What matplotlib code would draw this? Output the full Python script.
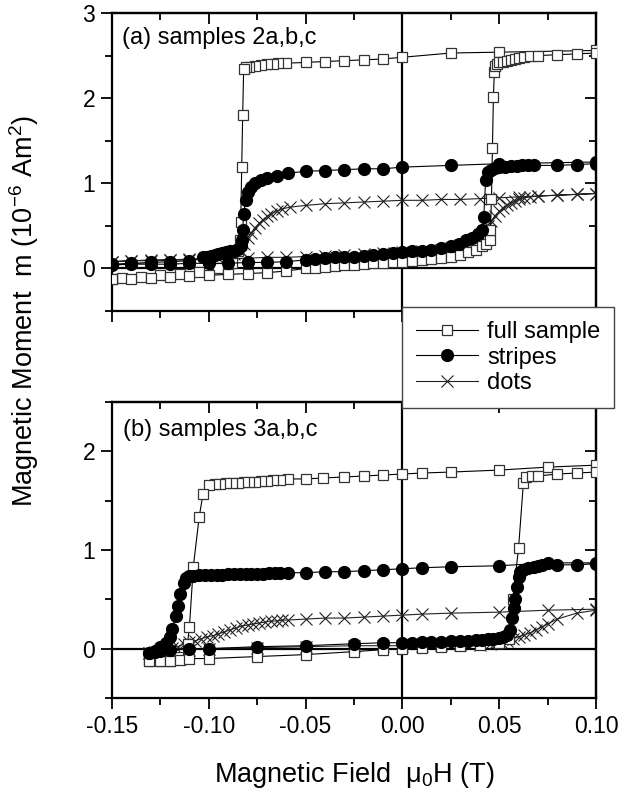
"""
Hysteresis loops of samples 2a,b,c and 3a,b,c (full sample / stripes / dots)
"""
import matplotlib
matplotlib.use('Agg')
import matplotlib.pyplot as plt
from matplotlib.ticker import MultipleLocator, NullFormatter, FormatStrFormatter

plt.rcParams['font.family'] = ['Liberation Sans', 'DejaVu Sans']
plt.rcParams['mathtext.fontset'] = 'custom'
plt.rcParams['mathtext.rm'] = 'Liberation Sans'
plt.rcParams['mathtext.it'] = 'Liberation Sans:italic'
plt.rcParams['axes.unicode_minus'] = False

# ---- panel (a): samples 2a,b,c ----
a_full_dn_H = [0.100, 0.050, 0.025, 0.000, -0.010, -0.020, -0.030, -0.040, -0.050, -0.060,
               -0.064, -0.067, -0.070, -0.073, -0.076, -0.079, -0.081, -0.082, -0.0825, -0.083,
               -0.0835, -0.084, -0.085, -0.088, -0.095, -0.105, -0.115, -0.125, -0.135, -0.145, -0.150]
a_full_dn_m = [2.56, 2.54, 2.53, 2.48, 2.46, 2.45, 2.44, 2.43, 2.42, 2.41,
               2.41, 2.40, 2.40, 2.39, 2.38, 2.37, 2.36, 2.34, 1.80, 1.19,
               0.55, 0.33, 0.20, 0.06, 0.00, -0.04, -0.06, -0.08, -0.10, -0.11, -0.12]
a_full_up_H = [-0.150, -0.140, -0.130, -0.120, -0.110, -0.100, -0.090, -0.080, -0.070, -0.060,
               -0.050, -0.045, -0.040, -0.035, -0.030, -0.025, -0.020, -0.015, -0.010, -0.005,
               0.000, 0.005, 0.010, 0.015, 0.020, 0.025, 0.030, 0.034, 0.038, 0.041,
               0.043, 0.045, 0.0455, 0.046, 0.0465, 0.047, 0.0475, 0.048, 0.049, 0.050,
               0.052, 0.054, 0.056, 0.058, 0.060, 0.063, 0.066, 0.070, 0.080, 0.090, 0.100]
a_full_up_m = [-0.13, -0.12, -0.11, -0.10, -0.09, -0.08, -0.07, -0.06, -0.05, -0.03,
               0.00, 0.01, 0.02, 0.03, 0.04, 0.04, 0.05, 0.06, 0.06, 0.07,
               0.08, 0.09, 0.10, 0.11, 0.12, 0.14, 0.16, 0.19, 0.22, 0.26,
               0.29, 0.33, 0.45, 0.82, 1.41, 2.01, 2.31, 2.38, 2.40, 2.42,
               2.43, 2.44, 2.45, 2.46, 2.47, 2.48, 2.49, 2.50, 2.51, 2.52, 2.53]

a_stripe_dn_H = [0.100, 0.050, 0.025, 0.000, -0.010, -0.020, -0.030, -0.040, -0.050, -0.059,
                 -0.065, -0.070, -0.073, -0.076, -0.078, -0.0795, -0.081, -0.082, -0.0825, -0.083,
                 -0.0835, -0.085, -0.087, -0.089, -0.091, -0.093, -0.095, -0.097, -0.099, -0.101,
                 -0.103, -0.110, -0.120, -0.130, -0.140, -0.150]
a_stripe_dn_m = [1.25, 1.23, 1.21, 1.19, 1.17, 1.17, 1.16, 1.15, 1.14, 1.12,
                 1.09, 1.06, 1.04, 1.00, 0.96, 0.90, 0.80, 0.64, 0.45, 0.33,
                 0.26, 0.23, 0.21, 0.20, 0.19, 0.18, 0.17, 0.16, 0.15, 0.14,
                 0.13, 0.09, 0.08, 0.07, 0.06, 0.05]
a_stripe_up_H = [-0.150, -0.140, -0.130, -0.120, -0.110, -0.100, -0.090, -0.080, -0.070, -0.060,
                 -0.050, -0.045, -0.040, -0.035, -0.030, -0.025, -0.020, -0.015, -0.010, -0.005,
                 0.000, 0.005, 0.010, 0.015, 0.020, 0.025, 0.029, 0.033, 0.036, 0.039,
                 0.041, 0.042, 0.043, 0.044, 0.046, 0.048, 0.050, 0.053, 0.056, 0.059,
                 0.062, 0.065, 0.068, 0.080, 0.090, 0.100]
a_stripe_up_m = [0.04, 0.05, 0.05, 0.05, 0.06, 0.06, 0.06, 0.07, 0.07, 0.08,
                 0.10, 0.11, 0.12, 0.13, 0.14, 0.14, 0.15, 0.16, 0.17, 0.18,
                 0.19, 0.20, 0.21, 0.22, 0.24, 0.26, 0.29, 0.33, 0.36, 0.40,
                 0.45, 0.60, 1.04, 1.13, 1.16, 1.18, 1.19, 1.19, 1.20, 1.20,
                 1.21, 1.21, 1.21, 1.21, 1.22, 1.23]

a_dot_dn_H = [0.100, 0.090, 0.080, 0.070, 0.060, 0.050, 0.040, 0.030, 0.020, 0.010,
              0.000, -0.010, -0.020, -0.030, -0.040, -0.050, -0.058, -0.062, -0.065, -0.068,
              -0.070, -0.072, -0.074, -0.076, -0.078, -0.080, -0.082, -0.084, -0.087, -0.090,
              -0.095, -0.100, -0.110, -0.120, -0.130, -0.140, -0.150]
a_dot_dn_m = [0.88, 0.87, 0.86, 0.85, 0.84, 0.83, 0.82, 0.81, 0.81, 0.80,
              0.80, 0.79, 0.78, 0.77, 0.76, 0.74, 0.72, 0.70, 0.67, 0.64,
              0.61, 0.57, 0.53, 0.48, 0.42, 0.36, 0.29, 0.22, 0.17, 0.14,
              0.12, 0.11, 0.10, 0.10, 0.09, 0.09, 0.08]
a_dot_up_H = [-0.150, -0.140, -0.130, -0.120, -0.110, -0.100, -0.090, -0.080, -0.070, -0.060,
              -0.050, -0.040, -0.030, -0.020, -0.010, 0.000, 0.010, 0.020, 0.025, 0.030,
              0.034, 0.037, 0.040, 0.042, 0.044, 0.046, 0.048, 0.050, 0.052, 0.054,
              0.056, 0.058, 0.060, 0.063, 0.066, 0.070, 0.080, 0.090, 0.100]
a_dot_up_m = [0.08, 0.09, 0.10, 0.10, 0.11, 0.11, 0.11, 0.12, 0.13, 0.13,
              0.14, 0.15, 0.16, 0.17, 0.18, 0.19, 0.20, 0.22, 0.24, 0.27,
              0.30, 0.34, 0.39, 0.44, 0.50, 0.56, 0.62, 0.67, 0.71, 0.74,
              0.77, 0.79, 0.81, 0.83, 0.84, 0.85, 0.86, 0.87, 0.88]

# ---- panel (b): samples 3a,b,c ----
b_full_dn_H = [0.100, 0.075, 0.050, 0.025, 0.010, 0.000, -0.010, -0.020, -0.030, -0.041,
               -0.050, -0.059, -0.063, -0.067, -0.070, -0.073, -0.076, -0.079, -0.082, -0.085,
               -0.088, -0.091, -0.094, -0.097, -0.100, -0.103, -0.105, -0.108, -0.110, -0.111,
               -0.113, -0.116, -0.120, -0.125, -0.131]
b_full_dn_m = [1.86, 1.84, 1.81, 1.79, 1.78, 1.77, 1.76, 1.75, 1.74, 1.73,
               1.72, 1.72, 1.71, 1.71, 1.70, 1.70, 1.69, 1.69, 1.69, 1.68,
               1.68, 1.68, 1.67, 1.67, 1.66, 1.57, 1.33, 0.83, 0.22, 0.05,
               -0.05, -0.08, -0.12, -0.13, -0.13]
b_full_up_H = [-0.131, -0.125, -0.120, -0.115, -0.110, -0.100, -0.075, -0.050, -0.025, -0.010,
               0.000, 0.010, 0.020, 0.030, 0.040, 0.050, 0.055, 0.057, 0.060, 0.0625,
               0.064, 0.067, 0.070, 0.080, 0.090, 0.100]
b_full_up_m = [-0.13, -0.13, -0.13, -0.11, -0.10, -0.10, -0.08, -0.06, -0.03, -0.01,
               0.00, 0.01, 0.02, 0.03, 0.04, 0.06, 0.10, 0.50, 1.02, 1.68,
               1.74, 1.75, 1.75, 1.77, 1.78, 1.79]

b_stripe_dn_H = [0.100, 0.075, 0.050, 0.025, 0.010, 0.000, -0.010, -0.020, -0.030, -0.040,
                 -0.050, -0.059, -0.063, -0.066, -0.069, -0.072, -0.075, -0.078, -0.081, -0.084,
                 -0.087, -0.090, -0.093, -0.096, -0.099, -0.102, -0.105, -0.108, -0.110, -0.112,
                 -0.113, -0.1147, -0.116, -0.117, -0.119, -0.120, -0.122, -0.125, -0.128, -0.131]
b_stripe_dn_m = [0.87, 0.87, 0.84, 0.83, 0.82, 0.81, 0.80, 0.79, 0.78, 0.78,
                 0.77, 0.77, 0.77, 0.77, 0.77, 0.76, 0.76, 0.76, 0.76, 0.76,
                 0.76, 0.76, 0.75, 0.75, 0.75, 0.75, 0.75, 0.74, 0.74, 0.72,
                 0.67, 0.55, 0.43, 0.33, 0.20, 0.12, 0.06, 0.02, -0.02, -0.04]
b_stripe_up_H = [-0.131, -0.128, -0.125, -0.120, -0.110, -0.100, -0.075, -0.050, -0.025, -0.010,
                 0.000, 0.005, 0.010, 0.015, 0.020, 0.025, 0.030, 0.034, 0.038, 0.041,
                 0.044, 0.047, 0.050, 0.052, 0.054, 0.0558, 0.0568, 0.0575, 0.058, 0.059,
                 0.060, 0.061, 0.0625, 0.065, 0.068, 0.070, 0.072, 0.080, 0.090, 0.100]
b_stripe_up_m = [-0.04, -0.03, -0.02, -0.01, 0.00, 0.00, 0.02, 0.03, 0.05, 0.06,
                 0.06, 0.06, 0.07, 0.07, 0.07, 0.08, 0.08, 0.08, 0.09, 0.09,
                 0.10, 0.10, 0.11, 0.12, 0.14, 0.19, 0.31, 0.41, 0.50, 0.63,
                 0.73, 0.78, 0.80, 0.82, 0.83, 0.84, 0.85, 0.85, 0.85, 0.86]

b_dot_dn_H = [0.100, 0.075, 0.050, 0.025, 0.010, 0.000, -0.010, -0.020, -0.030, -0.040,
              -0.050, -0.059, -0.062, -0.065, -0.068, -0.071, -0.074, -0.077, -0.080, -0.083,
              -0.086, -0.089, -0.092, -0.095, -0.098, -0.101, -0.104, -0.107, -0.110, -0.113,
              -0.116, -0.119, -0.122, -0.125, -0.128, -0.131]
b_dot_dn_m = [0.40, 0.39, 0.37, 0.36, 0.35, 0.34, 0.33, 0.32, 0.31, 0.31,
              0.30, 0.29, 0.29, 0.28, 0.28, 0.27, 0.26, 0.25, 0.24, 0.23,
              0.21, 0.19, 0.17, 0.15, 0.13, 0.12, 0.10, 0.08, 0.07, 0.05,
              0.02, 0.01, -0.01, -0.02, -0.03, -0.04]
b_dot_up_H = [-0.131, -0.125, -0.120, -0.110, -0.100, -0.075, -0.050, -0.025, -0.010, 0.000,
              0.010, 0.020, 0.030, 0.040, 0.045, 0.048, 0.051, 0.054, 0.057, 0.060,
              0.063, 0.066, 0.069, 0.072, 0.075, 0.080, 0.090, 0.100]
b_dot_up_m = [-0.04, -0.03, -0.02, -0.01, 0.00, 0.01, 0.02, 0.03, 0.03, 0.03,
              0.03, 0.04, 0.04, 0.04, 0.05, 0.06, 0.07, 0.08, 0.10, 0.12,
              0.14, 0.16, 0.19, 0.22, 0.25, 0.30, 0.36, 0.39]

labels = ["full sample", "stripes", "dots"]

TICK_FS = 16.5
NOTE_FS = 17
LABEL_FS = 19.5
LEG_FS = 17

full_style = dict(marker='s', ms=7.5, mfc='white', mec='#333333', mew=0.9,
                  color='k', lw=0.8, zorder=3)
stripe_style = dict(marker='o', ms=8.5, mfc='k', mec='k', color='k', lw=0.8, zorder=4)
dot_style = dict(marker='x', ms=9, mew=0.8, color='#222222', lw=0.8, zorder=2)


def style_axes(ax, ylim, show_xlabels):
    ax.set_xlim(-0.15, 0.10)
    ax.set_ylim(*ylim)
    ax.xaxis.set_major_locator(MultipleLocator(0.05))
    ax.xaxis.set_minor_locator(MultipleLocator(0.025))
    ax.xaxis.set_major_formatter(FormatStrFormatter('%.2f'))
    ax.yaxis.set_major_locator(MultipleLocator(1))
    ax.yaxis.set_minor_locator(MultipleLocator(0.5))
    ax.tick_params(which='both', direction='out', top=False, right=False,
                   labelsize=TICK_FS, width=1.3, pad=4)
    ax.tick_params(which='major', length=8)
    ax.tick_params(which='minor', length=5)
    ax.tick_params(axis='x', labelbottom=show_xlabels)
    for s in ax.spines.values():
        s.set_linewidth(1.6)
    ax.axhline(0, color='k', lw=1.6, zorder=1)
    ax.axvline(0, color='k', lw=1.6, zorder=1)

    # mirrored ticks pointing inward on top / right
    top = ax.secondary_xaxis('top')
    top.xaxis.set_major_locator(MultipleLocator(0.05))
    top.xaxis.set_minor_locator(MultipleLocator(0.025))
    top.xaxis.set_major_formatter(NullFormatter())
    top.tick_params(which='both', direction='in', width=1.3)
    top.tick_params(which='major', length=8)
    top.tick_params(which='minor', length=5)
    top.spines['top'].set_linewidth(1.6)
    right = ax.secondary_yaxis('right')
    right.yaxis.set_major_locator(MultipleLocator(1))
    right.yaxis.set_minor_locator(MultipleLocator(0.5))
    right.yaxis.set_major_formatter(NullFormatter())
    right.tick_params(which='both', direction='in', width=1.3)
    right.tick_params(which='major', length=8)
    right.tick_params(which='minor', length=5)
    right.spines['right'].set_linewidth(1.6)


fig = plt.figure(figsize=(6.39, 8.02), dpi=100)
ax_a = fig.add_axes([112 / 639, 1 - 311 / 802, 484 / 639, 298 / 802])
ax_b = fig.add_axes([112 / 639, 1 - 698 / 802, 484 / 639, 296 / 802])

style_axes(ax_a, (-0.5, 3.0), False)
style_axes(ax_b, (-0.5, 2.5), True)

h_full, = ax_a.plot(a_full_dn_H + a_full_up_H, a_full_dn_m + a_full_up_m, **full_style)
h_stripe, = ax_a.plot(a_stripe_dn_H + a_stripe_up_H, a_stripe_dn_m + a_stripe_up_m, **stripe_style)
h_dot, = ax_a.plot(a_dot_dn_H + a_dot_up_H, a_dot_dn_m + a_dot_up_m, **dot_style)

ax_b.plot(b_full_dn_H + b_full_up_H, b_full_dn_m + b_full_up_m, **full_style)
ax_b.plot(b_stripe_dn_H + b_stripe_up_H, b_stripe_dn_m + b_stripe_up_m, **stripe_style)
ax_b.plot(b_dot_dn_H + b_dot_up_H, b_dot_dn_m + b_dot_up_m, **dot_style)

ax_a.text(0.021, 0.915, "(a) samples 2a,b,c", transform=ax_a.transAxes,
          fontsize=NOTE_FS, va='center', ha='left')
ax_b.text(0.023, 0.905, "(b) samples 3a,b,c", transform=ax_b.transAxes,
          fontsize=NOTE_FS, va='center', ha='left')

fig.text(24 / 639, 1 - 311 / 802, "Magnetic Moment  m (10$^{-6}$ Am$^{2}$)", rotation=90,
         fontsize=LABEL_FS, ha='center', va='center')
fig.text(354 / 639, 1 - 775 / 802, "Magnetic Field  μ$_{0}$H (T)", fontsize=LABEL_FS,
         ha='center', va='center')

leg = fig.legend([h_full, h_stripe, h_dot], labels, loc='upper left',
                 bbox_to_anchor=(402 / 639, 1 - 307 / 802), borderaxespad=0,
                 fontsize=LEG_FS, handlelength=2.6, handletextpad=0.4,
                 labelspacing=0.15, borderpad=0.6, fancybox=False,
                 framealpha=1, edgecolor='#444444')
leg.get_frame().set_linewidth(1.0)
leg.set_zorder(10)

fig.savefig("out.png", dpi=100)
